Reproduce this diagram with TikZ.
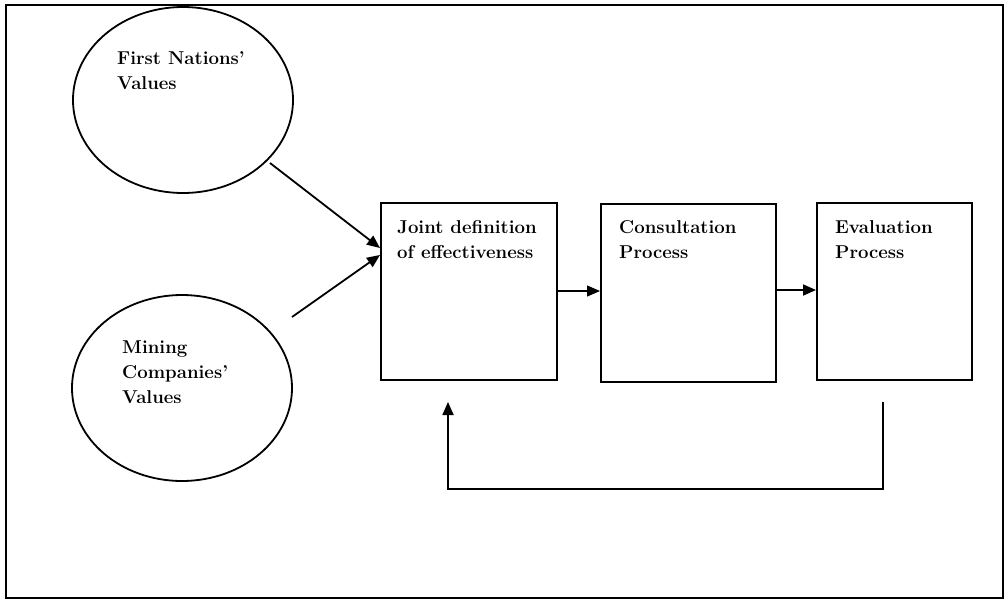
\documentclass[tikz,border=0pt]{standalone}
\usetikzlibrary{arrows.meta,shapes.geometric}
\begin{document}
\begin{tikzpicture}[x=1pt,y=-1pt,
  frame/.style={draw,line width=2.5pt},
  oval/.style={draw,ellipse,line width=1.8pt,inner sep=0pt},
  stepbox/.style={draw,rectangle,line width=2pt,inner sep=0pt,anchor=north west},
  lbl/.style={anchor=base west,align=left,inner sep=0pt,font=\fontsize{18.6}{25}\selectfont\bfseries},
  link/.style={line width=1.8pt,-{Triangle[length=13pt,width=11pt]}},
  thinlink/.style={line width=1.1pt,-{Triangle[length=13pt,width=11pt]}}
]
\useasboundingbox (0,0) rectangle (1006,603);
\draw[frame] (6,5) rectangle (1003,598);

% ellipses
\node[oval,minimum width=220pt,minimum height=186pt] (fn) at (183,100) {};
\node[oval,minimum width=220pt,minimum height=186pt] (mc) at (182,388) {};
% (base anchor of a multi-line node = baseline of its last line)
\node[lbl] (fnt) at (117,89) {First Nations'\\Values};
\node[lbl] (mct) at (122,403) {Mining\\Companies'\\Values};

% boxes
\node[stepbox,minimum width=176pt,minimum height=177pt] (b1) at (380,202) {};
\node[stepbox,minimum width=175pt,minimum height=178pt] (b2) at (600,203) {};
\node[stepbox,minimum width=155pt,minimum height=177pt] (b3) at (816,202) {};
\node[lbl] (b1t) at (397,258) {Joint definition\\of effectiveness};
\node[lbl] (b2t) at (619,258) {Consultation\\Process};
\node[lbl] (b3t) at (835,258) {Evaluation\\Process};

% arrows from ellipses
\coordinate (s1) at (270,163);
\coordinate (s2) at (292,317);
\coordinate (t1) at (380,248);
\coordinate (t2) at (380,255);
\draw[link] (s1) -- (t1);
\draw[link] (s2) -- (t2);

% process arrows
\draw[thinlink] (b1.east |- 0,291) -- (b2.west |- 0,291);
\draw[link] (b2.east |- 0,290) -- (b3.west |- 0,290);

% feedback
\coordinate (f1) at (883,402);
\coordinate (f2) at (883,489);
\coordinate (f3) at (448,489);
\coordinate (f4) at (448,402);
\draw[link] (f1) -- (f2) -- (f3) -- (f4);
\end{tikzpicture}
\end{document}
